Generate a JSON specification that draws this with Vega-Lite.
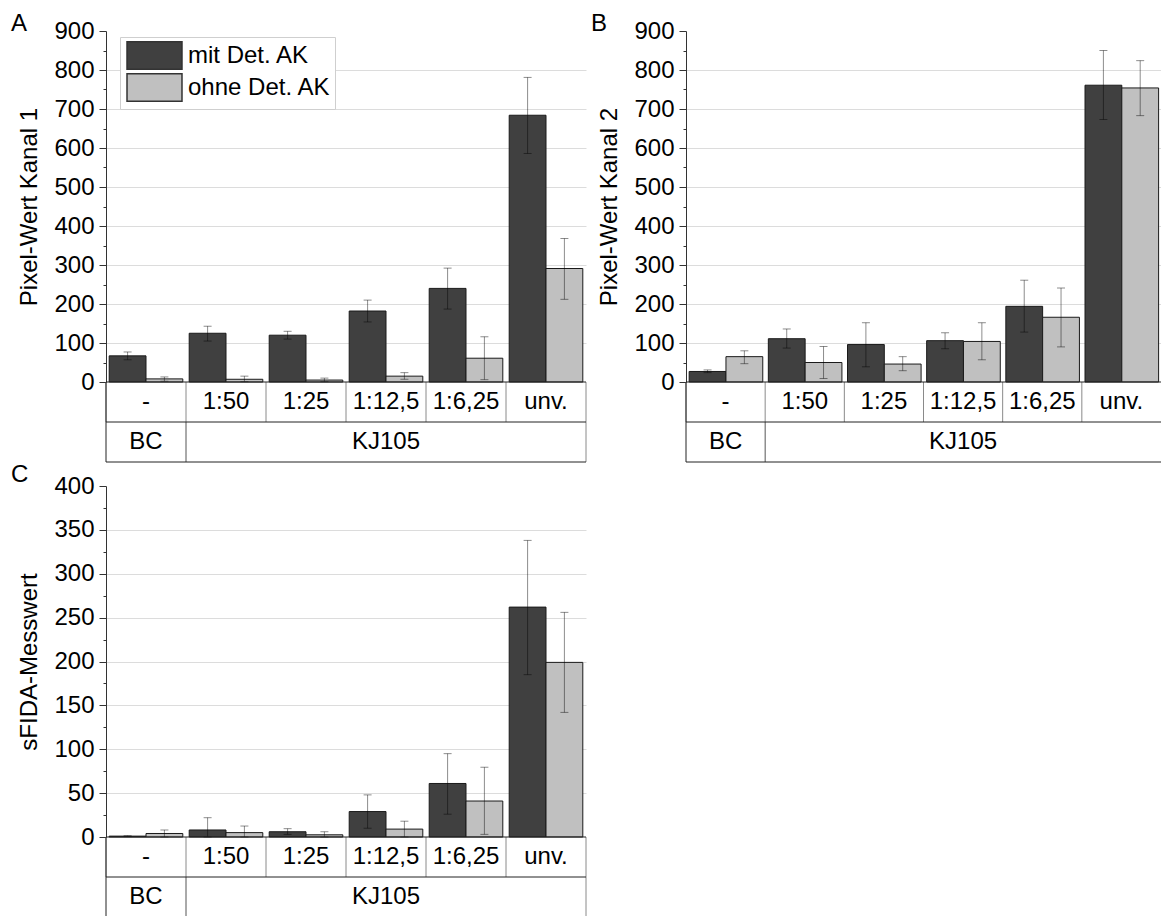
{
  "$schema": "https://vega.github.io/schema/vega-lite/v6.json",
  "padding": {"left": 10, "top": 12, "right": 0, "bottom": 0},
  "config": {
    "font": "Liberation Sans",
    "view": {"stroke": null},
    "axis": {"labelFontSize": 24, "titleFontSize": 24, "titleFontWeight": "normal", "labelColor": "#000", "titleColor": "#000", "domainColor": "#333", "tickColor": "#333", "gridColor": "#dcdcdc", "labelOverlap": false, "labelFlush": false, "labelPadding": 5, "titlePadding": 12},
    "title": {"fontSize": 24, "fontWeight": "normal", "anchor": "start", "frame": "bounds", "offset": 0, "color": "#000"},
    "text": {"font": "Liberation Sans"}
  },
  "datasets": {
    "bars": [
      {"panel": "A", "dil": "-", "series": "mit Det. AK", "value": 67, "lo": 57, "hi": 77},
      {"panel": "A", "dil": "1:50", "series": "mit Det. AK", "value": 125, "lo": 105, "hi": 143},
      {"panel": "A", "dil": "1:25", "series": "mit Det. AK", "value": 120, "lo": 110, "hi": 130},
      {"panel": "A", "dil": "1:12,5", "series": "mit Det. AK", "value": 182, "lo": 154, "hi": 210},
      {"panel": "A", "dil": "1:6,25", "series": "mit Det. AK", "value": 240, "lo": 187, "hi": 292},
      {"panel": "A", "dil": "unv.", "series": "mit Det. AK", "value": 684, "lo": 586, "hi": 781},
      {"panel": "A", "dil": "-", "series": "ohne Det. AK", "value": 8, "lo": 2, "hi": 13},
      {"panel": "A", "dil": "1:50", "series": "ohne Det. AK", "value": 7, "lo": 1, "hi": 15},
      {"panel": "A", "dil": "1:25", "series": "ohne Det. AK", "value": 5, "lo": 1, "hi": 10},
      {"panel": "A", "dil": "1:12,5", "series": "ohne Det. AK", "value": 15, "lo": 7, "hi": 24},
      {"panel": "A", "dil": "1:6,25", "series": "ohne Det. AK", "value": 61, "lo": 6, "hi": 116},
      {"panel": "A", "dil": "unv.", "series": "ohne Det. AK", "value": 291, "lo": 212, "hi": 368},
      {"panel": "B", "dil": "-", "series": "mit Det. AK", "value": 27, "lo": 24, "hi": 31},
      {"panel": "B", "dil": "1:50", "series": "mit Det. AK", "value": 111, "lo": 87, "hi": 136},
      {"panel": "B", "dil": "1:25", "series": "mit Det. AK", "value": 96, "lo": 39, "hi": 152},
      {"panel": "B", "dil": "1:12,5", "series": "mit Det. AK", "value": 106, "lo": 85, "hi": 126},
      {"panel": "B", "dil": "1:6,25", "series": "mit Det. AK", "value": 194, "lo": 128, "hi": 261},
      {"panel": "B", "dil": "unv.", "series": "mit Det. AK", "value": 761, "lo": 673, "hi": 850},
      {"panel": "B", "dil": "-", "series": "ohne Det. AK", "value": 65, "lo": 47, "hi": 80},
      {"panel": "B", "dil": "1:50", "series": "ohne Det. AK", "value": 50, "lo": 9, "hi": 91},
      {"panel": "B", "dil": "1:25", "series": "ohne Det. AK", "value": 46, "lo": 29, "hi": 65},
      {"panel": "B", "dil": "1:12,5", "series": "ohne Det. AK", "value": 104, "lo": 57, "hi": 152},
      {"panel": "B", "dil": "1:6,25", "series": "ohne Det. AK", "value": 166, "lo": 90, "hi": 241},
      {"panel": "B", "dil": "unv.", "series": "ohne Det. AK", "value": 754, "lo": 683, "hi": 824},
      {"panel": "C", "dil": "-", "series": "mit Det. AK", "value": 1, "lo": 0.5, "hi": 1.5},
      {"panel": "C", "dil": "1:50", "series": "mit Det. AK", "value": 8, "lo": 0, "hi": 22},
      {"panel": "C", "dil": "1:25", "series": "mit Det. AK", "value": 6, "lo": 3, "hi": 9.5},
      {"panel": "C", "dil": "1:12,5", "series": "mit Det. AK", "value": 29, "lo": 10, "hi": 48},
      {"panel": "C", "dil": "1:6,25", "series": "mit Det. AK", "value": 61, "lo": 26, "hi": 95},
      {"panel": "C", "dil": "unv.", "series": "mit Det. AK", "value": 262, "lo": 185, "hi": 338},
      {"panel": "C", "dil": "-", "series": "ohne Det. AK", "value": 4, "lo": 0, "hi": 8},
      {"panel": "C", "dil": "1:50", "series": "ohne Det. AK", "value": 5, "lo": 0, "hi": 12.5},
      {"panel": "C", "dil": "1:25", "series": "ohne Det. AK", "value": 2.5, "lo": 0, "hi": 6},
      {"panel": "C", "dil": "1:12,5", "series": "ohne Det. AK", "value": 9, "lo": 0, "hi": 18},
      {"panel": "C", "dil": "1:6,25", "series": "ohne Det. AK", "value": 41, "lo": 3, "hi": 79.5},
      {"panel": "C", "dil": "unv.", "series": "ohne Det. AK", "value": 199, "lo": 142, "hi": 256}
    ],
    "cells": [
      {"dil": "-", "grp": "BC"},
      {"dil": "1:50", "grp": "KJ105"},
      {"dil": "1:25", "grp": "KJ105"},
      {"dil": "1:12,5", "grp": "KJ105"},
      {"dil": "1:6,25", "grp": "KJ105"},
      {"dil": "unv.", "grp": "KJ105"}
    ]
  },
  "resolve": {"scale": {"color": "independent"}, "legend": {"color": "independent"}},
  "spacing": 0,
  "vconcat": [
    {
      "resolve": {"scale": {"color": "independent"}, "legend": {"color": "independent"}},
      "spacing": 3,
      "hconcat": [
        {
          "title": {"text": "A", "dx": -7, "dy": 21},
          "width": 480, "height": 431,
          "resolve": {"scale": {"x": "independent", "y": "independent"}, "axis": {"y": "independent"}},
          "layer": [
            {
              "data": {"name": "bars"},
              "transform": [{"filter": "datum.panel === 'A'"}],
              "resolve": {"axis": {"y": "independent"}},
              "encoding": {
                "x": {"field": "dil", "type": "nominal", "scale": {"domain": ["-", "1:50", "1:25", "1:12,5", "1:6,25", "unv."], "paddingInner": 0.08, "paddingOuter": 0.04}, "axis": null},
                "xOffset": {"field": "series", "type": "nominal", "scale": {"domain": ["mit Det. AK", "ohne Det. AK"], "paddingInner": 0, "paddingOuter": 0}}
              },
              "layer": [
                {
                  "mark": {"type": "bar", "stroke": "#1a1a1a", "strokeWidth": 1},
                  "encoding": {
                    "y": {"field": "value", "type": "quantitative", "title": "Pixel-Wert Kanal 1", "scale": {"domain": [0, 900], "nice": false, "range": [351, 0]},
                      "axis": {"values": [0, 100, 200, 300, 400, 500, 600, 700, 800, 900], "labelOverlap": false, "tickSize": 7,
                        "gridOpacity": {"condition": {"test": "datum.value > 0 && datum.value < 900", "value": 1}, "value": 0}}},
                    "color": {"field": "series", "type": "nominal", "scale": {"domain": ["mit Det. AK", "ohne Det. AK"], "range": ["#404040", "#c0c0c0"]},
                      "legend": {"orient": "none", "legendX": 14, "legendY": 6, "title": null, "symbolType": "M-2,-1H2V1H-2Z", "symbolSize": 756, "symbolStrokeColor": "#333", "symbolStrokeWidth": 1.5, "symbolOpacity": 1, "symbolOffset": 16, "labelOffset": 19, "labelFontSize": 24, "labelColor": "#000", "padding": 4, "rowPadding": -8, "fillColor": "#ffffff", "strokeColor": "#cfcfcf"}}
                  }
                },
                {
                  "mark": {"type": "rule", "color": "#000", "opacity": 0.45, "strokeWidth": 1},
                  "encoding": {"y": {"field": "lo", "type": "quantitative", "axis": null}, "y2": {"field": "hi"}}
                },
                {
                  "mark": {"type": "tick", "color": "#000", "opacity": 0.45, "size": 8, "thickness": 1},
                  "encoding": {"y": {"field": "lo", "type": "quantitative", "axis": null}}
                },
                {
                  "mark": {"type": "tick", "color": "#000", "opacity": 0.45, "size": 8, "thickness": 1},
                  "encoding": {"y": {"field": "hi", "type": "quantitative", "axis": {"orient": "left", "values": [50, 150, 250, 350, 450, 550, 650, 750, 850], "labels": false, "domain": false, "grid": false, "tickSize": 3, "title": null}}}
                }
              ]
            },
            {
              "data": {"name": "cells"},
              "layer": [
                {
                  "mark": {"type": "rule", "color": "#8a8a8a"},
                  "encoding": {
                    "x": {"field": "dil", "type": "nominal", "bandPosition": 0, "scale": {"domain": ["-", "1:50", "1:25", "1:12,5", "1:6,25", "unv."], "paddingInner": 0, "paddingOuter": 0}, "axis": null},
                    "y": {"datum": 0, "type": "quantitative", "scale": {"domain": [0, 2], "range": [351, 431], "nice": false, "zero": false}, "axis": null},
                    "y2": {"datum": 1}
                  }
                },
                {
                  "transform": [{"filter": "datum.dil === 'unv.'"}],
                  "mark": {"type": "rule", "color": "#8a8a8a"},
                  "encoding": {"x": {"field": "dil", "type": "nominal", "bandPosition": 1}, "y": {"datum": 0, "type": "quantitative"}, "y2": {"datum": 2}}
                },
                {
                  "transform": [{"filter": "datum.dil === '1:50'"}],
                  "mark": {"type": "rule", "color": "#555"},
                  "encoding": {"x": {"field": "dil", "type": "nominal", "bandPosition": 0}, "y": {"datum": 1, "type": "quantitative"}, "y2": {"datum": 2}}
                },
                {
                  "transform": [{"filter": "datum.dil === '-'"}],
                  "mark": {"type": "rule", "color": "#222"},
                  "encoding": {"x": {"field": "dil", "type": "nominal", "bandPosition": 0}, "y": {"datum": 0, "type": "quantitative"}, "y2": {"datum": 2}}
                },
                {
                  "transform": [{"filter": "datum.dil === '-'"}],
                  "mark": {"type": "rule", "color": "#222"},
                  "encoding": {"y": {"datum": 0, "type": "quantitative"}}
                },
                {
                  "transform": [{"filter": "datum.dil === '-'"}],
                  "mark": {"type": "rule", "color": "#222"},
                  "encoding": {"y": {"datum": 1, "type": "quantitative"}}
                },
                {
                  "transform": [{"filter": "datum.dil === '-'"}],
                  "mark": {"type": "rule", "color": "#222"},
                  "encoding": {"y": {"datum": 2, "type": "quantitative"}}
                },
                {
                  "mark": {"type": "text", "fontSize": 24, "baseline": "middle", "color": "#000"},
                  "encoding": {"x": {"field": "dil", "type": "nominal"}, "y": {"datum": 0.5, "type": "quantitative"}, "text": {"field": "dil"}}
                },
                {
                  "transform": [{"filter": "datum.dil === '-' || datum.dil === '1:12,5'"}],
                  "mark": {"type": "text", "fontSize": 24, "baseline": "middle", "color": "#000"},
                  "encoding": {"x": {"field": "dil", "type": "nominal"}, "y": {"datum": 1.5, "type": "quantitative"}, "text": {"field": "grp"}}
                }
              ]
            }
          ]
        },
        {
          "title": {"text": "B", "dx": -7, "dy": 21},
          "width": 475, "height": 431,
          "resolve": {"scale": {"x": "independent", "y": "independent"}, "axis": {"y": "independent"}},
          "layer": [
            {
              "data": {"name": "bars"},
              "transform": [{"filter": "datum.panel === 'B'"}],
              "resolve": {"axis": {"y": "independent"}},
              "encoding": {
                "x": {"field": "dil", "type": "nominal", "scale": {"domain": ["-", "1:50", "1:25", "1:12,5", "1:6,25", "unv."], "paddingInner": 0.08, "paddingOuter": 0.04}, "axis": null},
                "xOffset": {"field": "series", "type": "nominal", "scale": {"domain": ["mit Det. AK", "ohne Det. AK"], "paddingInner": 0, "paddingOuter": 0}}
              },
              "layer": [
                {
                  "mark": {"type": "bar", "stroke": "#1a1a1a", "strokeWidth": 1},
                  "encoding": {
                    "y": {"field": "value", "type": "quantitative", "title": "Pixel-Wert Kanal 2", "scale": {"domain": [0, 900], "nice": false, "range": [351, 0]},
                      "axis": {"values": [0, 100, 200, 300, 400, 500, 600, 700, 800, 900], "labelOverlap": false, "tickSize": 7,
                        "gridOpacity": {"condition": {"test": "datum.value > 0 && datum.value < 900", "value": 1}, "value": 0}}},
                    "color": {"field": "series", "type": "nominal", "scale": {"domain": ["mit Det. AK", "ohne Det. AK"], "range": ["#404040", "#c0c0c0"]}, "legend": null}
                  }
                },
                {
                  "mark": {"type": "rule", "color": "#000", "opacity": 0.45, "strokeWidth": 1},
                  "encoding": {"y": {"field": "lo", "type": "quantitative", "axis": null}, "y2": {"field": "hi"}}
                },
                {
                  "mark": {"type": "tick", "color": "#000", "opacity": 0.45, "size": 8, "thickness": 1},
                  "encoding": {"y": {"field": "lo", "type": "quantitative", "axis": null}}
                },
                {
                  "mark": {"type": "tick", "color": "#000", "opacity": 0.45, "size": 8, "thickness": 1},
                  "encoding": {"y": {"field": "hi", "type": "quantitative", "axis": {"orient": "left", "values": [50, 150, 250, 350, 450, 550, 650, 750, 850], "labels": false, "domain": false, "grid": false, "tickSize": 3, "title": null}}}
                }
              ]
            },
            {
              "data": {"name": "cells"},
              "layer": [
                {
                  "mark": {"type": "rule", "color": "#8a8a8a"},
                  "encoding": {
                    "x": {"field": "dil", "type": "nominal", "bandPosition": 0, "scale": {"domain": ["-", "1:50", "1:25", "1:12,5", "1:6,25", "unv."], "paddingInner": 0, "paddingOuter": 0}, "axis": null},
                    "y": {"datum": 0, "type": "quantitative", "scale": {"domain": [0, 2], "range": [351, 431], "nice": false, "zero": false}, "axis": null},
                    "y2": {"datum": 1}
                  }
                },
                {
                  "transform": [{"filter": "datum.dil === '1:50'"}],
                  "mark": {"type": "rule", "color": "#555"},
                  "encoding": {"x": {"field": "dil", "type": "nominal", "bandPosition": 0}, "y": {"datum": 1, "type": "quantitative"}, "y2": {"datum": 2}}
                },
                {
                  "transform": [{"filter": "datum.dil === '-'"}],
                  "mark": {"type": "rule", "color": "#222"},
                  "encoding": {"x": {"field": "dil", "type": "nominal", "bandPosition": 0}, "y": {"datum": 0, "type": "quantitative"}, "y2": {"datum": 2}}
                },
                {
                  "transform": [{"filter": "datum.dil === '-'"}],
                  "mark": {"type": "rule", "color": "#222"},
                  "encoding": {"y": {"datum": 0, "type": "quantitative"}}
                },
                {
                  "transform": [{"filter": "datum.dil === '-'"}],
                  "mark": {"type": "rule", "color": "#222"},
                  "encoding": {"y": {"datum": 1, "type": "quantitative"}}
                },
                {
                  "transform": [{"filter": "datum.dil === '-'"}],
                  "mark": {"type": "rule", "color": "#222"},
                  "encoding": {"y": {"datum": 2, "type": "quantitative"}}
                },
                {
                  "mark": {"type": "text", "fontSize": 24, "baseline": "middle", "color": "#000"},
                  "encoding": {"x": {"field": "dil", "type": "nominal"}, "y": {"datum": 0.5, "type": "quantitative"}, "text": {"field": "dil"}}
                },
                {
                  "transform": [{"filter": "datum.dil === '-' || datum.dil === '1:12,5'"}],
                  "mark": {"type": "text", "fontSize": 24, "baseline": "middle", "color": "#000"},
                  "encoding": {"x": {"field": "dil", "type": "nominal"}, "y": {"datum": 1.5, "type": "quantitative"}, "text": {"field": "grp"}}
                }
              ]
            }
          ]
        }
      ]
    },
    {
      "title": {"text": "C", "dx": -7, "dy": 17},
      "width": 480, "height": 429,
      "resolve": {"scale": {"x": "independent", "y": "independent"}, "axis": {"y": "independent"}},
      "layer": [
        {
          "data": {"name": "bars"},
          "transform": [{"filter": "datum.panel === 'C'"}],
          "resolve": {"axis": {"y": "independent"}},
          "encoding": {
            "x": {"field": "dil", "type": "nominal", "scale": {"domain": ["-", "1:50", "1:25", "1:12,5", "1:6,25", "unv."], "paddingInner": 0.08, "paddingOuter": 0.04}, "axis": null},
            "xOffset": {"field": "series", "type": "nominal", "scale": {"domain": ["mit Det. AK", "ohne Det. AK"], "paddingInner": 0, "paddingOuter": 0}}
          },
          "layer": [
            {
              "mark": {"type": "bar", "stroke": "#1a1a1a", "strokeWidth": 1},
              "encoding": {
                "y": {"field": "value", "type": "quantitative", "title": "sFIDA-Messwert", "scale": {"domain": [0, 400], "nice": false, "range": [351, 0]},
                  "axis": {"values": [0, 50, 100, 150, 200, 250, 300, 350, 400], "labelOverlap": false, "tickSize": 7,
                    "gridOpacity": {"condition": {"test": "datum.value > 0 && datum.value < 400", "value": 1}, "value": 0}}},
                "color": {"field": "series", "type": "nominal", "scale": {"domain": ["mit Det. AK", "ohne Det. AK"], "range": ["#404040", "#c0c0c0"]}, "legend": null}
              }
            },
            {
              "mark": {"type": "rule", "color": "#000", "opacity": 0.45, "strokeWidth": 1},
              "encoding": {"y": {"field": "lo", "type": "quantitative", "axis": null}, "y2": {"field": "hi"}}
            },
            {
              "mark": {"type": "tick", "color": "#000", "opacity": 0.45, "size": 8, "thickness": 1},
              "encoding": {"y": {"field": "lo", "type": "quantitative", "axis": null}}
            },
            {
              "mark": {"type": "tick", "color": "#000", "opacity": 0.45, "size": 8, "thickness": 1},
              "encoding": {"y": {"field": "hi", "type": "quantitative", "axis": {"orient": "left", "values": [25, 75, 125, 175, 225, 275, 325, 375], "labels": false, "domain": false, "grid": false, "tickSize": 3, "title": null}}}
            }
          ]
        },
        {
          "data": {"name": "cells"},
          "layer": [
            {
              "mark": {"type": "rule", "color": "#8a8a8a"},
              "encoding": {
                "x": {"field": "dil", "type": "nominal", "bandPosition": 0, "scale": {"domain": ["-", "1:50", "1:25", "1:12,5", "1:6,25", "unv."], "paddingInner": 0, "paddingOuter": 0}, "axis": null},
                "y": {"datum": 0, "type": "quantitative", "scale": {"domain": [0, 2], "range": [351, 431], "nice": false, "zero": false}, "axis": null},
                "y2": {"datum": 1}
              }
            },
            {
              "transform": [{"filter": "datum.dil === 'unv.'"}],
              "mark": {"type": "rule", "color": "#8a8a8a"},
              "encoding": {"x": {"field": "dil", "type": "nominal", "bandPosition": 1}, "y": {"datum": 0, "type": "quantitative"}, "y2": {"datum": 2}}
            },
            {
              "transform": [{"filter": "datum.dil === '1:50'"}],
              "mark": {"type": "rule", "color": "#555"},
              "encoding": {"x": {"field": "dil", "type": "nominal", "bandPosition": 0}, "y": {"datum": 1, "type": "quantitative"}, "y2": {"datum": 2}}
            },
            {
              "transform": [{"filter": "datum.dil === '-'"}],
              "mark": {"type": "rule", "color": "#222"},
              "encoding": {"x": {"field": "dil", "type": "nominal", "bandPosition": 0}, "y": {"datum": 0, "type": "quantitative"}, "y2": {"datum": 2}}
            },
            {
              "transform": [{"filter": "datum.dil === '-'"}],
              "mark": {"type": "rule", "color": "#222"},
              "encoding": {"y": {"datum": 0, "type": "quantitative"}}
            },
            {
              "transform": [{"filter": "datum.dil === '-'"}],
              "mark": {"type": "rule", "color": "#222"},
              "encoding": {"y": {"datum": 1, "type": "quantitative"}}
            },
            {
              "mark": {"type": "text", "fontSize": 24, "baseline": "middle", "color": "#000"},
              "encoding": {"x": {"field": "dil", "type": "nominal"}, "y": {"datum": 0.5, "type": "quantitative"}, "text": {"field": "dil"}}
            },
            {
              "transform": [{"filter": "datum.dil === '-' || datum.dil === '1:12,5'"}],
              "mark": {"type": "text", "fontSize": 24, "baseline": "middle", "color": "#000"},
              "encoding": {"x": {"field": "dil", "type": "nominal"}, "y": {"datum": 1.5, "type": "quantitative"}, "text": {"field": "grp"}}
            }
          ]
        }
      ]
    }
  ]
}
